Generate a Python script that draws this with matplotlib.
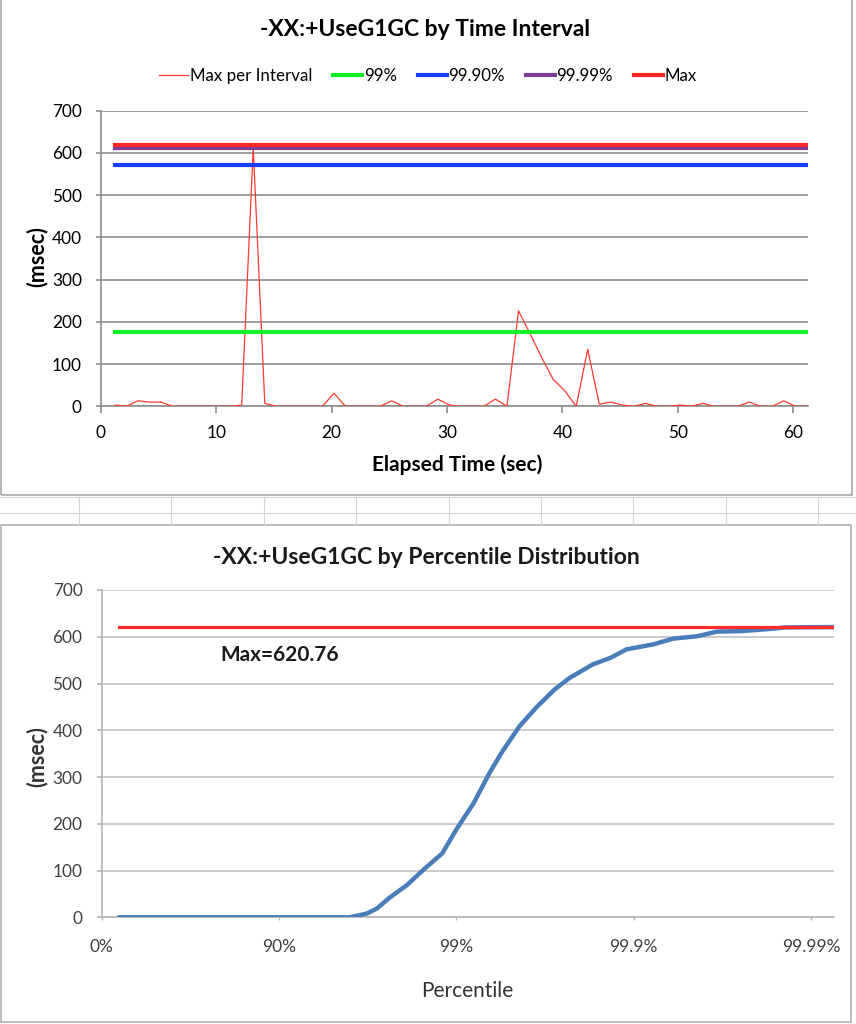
import numpy as np
import matplotlib
matplotlib.use("Agg")
import matplotlib.pyplot as plt
from matplotlib.patches import Rectangle
from matplotlib.lines import Line2D

plt.rcParams['font.family'] = ['Lato', 'DejaVu Sans']

# Top chart: max pause per 1 s interval
times = [1.2, 2.2, 3.2, 4.2, 5.2, 6.2, 7.2, 8.2, 9.2, 10.2,
         11.2, 12.2, 13.2, 14.2, 15.2, 16.2, 17.2, 18.2, 19.2, 20.2,
         21.2, 22.2, 23.2, 24.2, 25.2, 26.2, 27.2, 28.2, 29.2, 30.2,
         31.2, 32.2, 33.2, 34.2, 35.2, 36.2, 37.2, 38.2, 39.2, 40.2,
         41.2, 42.2, 43.2, 44.2, 45.2, 46.2, 47.2, 48.2, 49.2, 50.2,
         51.2, 52.2, 53.2, 54.2, 55.2, 56.2, 57.2, 58.2, 59.2, 60.2, 61.2]
max_per_interval = [3, 0, 13, 10, 10, 0, 0, 0, 0, 0,
                    0, 3, 612, 7, 0, 0, 0, 0, 0, 31,
                    0, 0, 0, 0, 13, 0, 0, 0, 17, 3,
                    0, 0, 0, 17, 0, 226, 172, 116, 64, 37,
                    0, 135, 5, 10, 3, 0, 7, 0, 0, 3,
                    0, 7, 0, 0, 0, 10, 0, 0, 13, 0, 0]
p99 = 175
p999 = 572
p9999 = 612
p_max = 618

# Bottom chart: latency by percentile
percentiles = [20, 50, 80, 90, 95, 96, 96.8, 97.2, 97.6, 98.1, 98.5, 98.8,
               99.0, 99.2, 99.35, 99.45, 99.56, 99.65, 99.72, 99.77, 99.83,
               99.865, 99.89, 99.923, 99.94, 99.956, 99.966, 99.975, 99.982,
               99.986, 99.9926]
latency = [0, 0, 0, 0, 0, 0, 8, 19, 41, 69, 105, 137,
           188, 244, 309, 355, 409, 451, 487, 512, 541,
           555, 573, 584, 596, 601, 611, 612, 616, 620, 620.76]
max_latency = 620.76
pct_ticks = [0, 90, 99, 99.9, 99.99]
pct_labels = ['0%', '90%', '99%', '99.9%', '99.99%']

W, H = 856, 1024
fig = plt.figure(figsize=(W / 100, H / 100), dpi=100)
fig.patch.set_facecolor('white')

def fx(px):
    return px / W

def fy(py):
    return 1 - py / H

# chart frames and spreadsheet cells between them
fig.patches.append(Rectangle((fx(1), fy(495)), fx(851), 495 / H + 0.01,
                             transform=fig.transFigure, fill=False,
                             edgecolor='#a8a8a8', lw=1.2))
fig.patches.append(Rectangle((fx(1), fy(1022)), fx(850), (1022 - 525) / H,
                             transform=fig.transFigure, fill=False,
                             edgecolor='#b0b0b0', lw=1.2))
for yy in [497, 513]:
    fig.lines.append(Line2D([0, 1], [fy(yy), fy(yy)], transform=fig.transFigure,
                            color='#d4d4d4', lw=0.8))
for xx in [79, 171, 264, 356, 449, 541, 633, 726, 818]:
    fig.lines.append(Line2D([fx(xx), fx(xx)], [fy(497), fy(525)],
                            transform=fig.transFigure, color='#d4d4d4', lw=0.8))

# ---- top chart ----
ax1 = fig.add_axes([fx(101), fy(406.3), fx(707), (406.3 - 110.7) / H])
ax1.plot(times, max_per_interval, color='#ff3b30', lw=0.9, label='Max per Interval', zorder=3)
ax1.plot([times[0], times[-1]], [p99, p99], color='#14f028', lw=3, label='99%', zorder=4)
ax1.plot([times[0], times[-1]], [p999, p999], color='#1a3cff', lw=3, label='99.90%', zorder=4)
ax1.plot([times[0], times[-1]], [p9999, p9999], color='#7d3c98', lw=3, label='99.99%', zorder=4)
ax1.plot([times[0], times[-1]], [p_max, p_max], color='#ff2626', lw=3, label='Max', zorder=5)
ax1.set_xlim(0, 61.3)
ax1.set_ylim(0, 700)
ax1.set_xticks([0, 10, 20, 30, 40, 50, 60])
ax1.set_yticks(range(0, 701, 100))
ax1.grid(axis='y', color='#8e8e8e', lw=1.2)
ax1.set_axisbelow(True)
for s in ['top', 'right']:
    ax1.spines[s].set_visible(False)
for s in ['left', 'bottom']:
    ax1.spines[s].set_color('#8e8e8e')
    ax1.spines[s].set_linewidth(1.2)
ax1.tick_params(axis='x', direction='out', length=4.8, width=1.2, color='#8e8e8e',
                pad=9, labelsize=12.4, labelcolor='black')
ax1.tick_params(axis='y', direction='out', length=3.8, width=1.2, color='#8e8e8e',
                pad=10, labelsize=12.4, labelcolor='black')

fig.text(fx(425), fy(30), '-XX:+UseG1GC by Time Interval', ha='center', va='center',
         fontsize=16.5, fontweight='bold')
fig.text(fx(37), fy(257), '(msec)', ha='center', va='center', rotation=90,
         fontsize=15.5, fontweight='bold')
fig.text(fx(457), fy(465), 'Elapsed Time (sec)', ha='center', va='center',
         fontsize=15, fontweight='bold')
fig.legend(*ax1.get_legend_handles_labels(), loc='center', ncol=5,
           bbox_to_anchor=(fx(428), fy(76)), frameon=False, fontsize=12.2,
           handlelength=1.7, handletextpad=0.1, columnspacing=1.25)

# ---- bottom chart ----
def fwd(p):
    p = np.clip(np.asarray(p, dtype=float), -1e9, 99.99999)
    return -np.log10(1 - p / 100)

def inv(d):
    return 100 * (1 - 10 ** (-np.asarray(d, dtype=float)))

ax2 = fig.add_axes([fx(101.7), fy(917.3), fx(732.6), (917.3 - 590) / H])
ax2.set_xscale('function', functions=(fwd, inv))
ax2.plot(percentiles, latency, color='#4a7ebb', lw=3.2, solid_joinstyle='round',
         solid_capstyle='round', zorder=3)
ax2.plot([percentiles[0], percentiles[-1]], [max_latency, max_latency],
         color='#ff2a2a', lw=2.3, zorder=4)
ax2.set_xlim(0, percentiles[-1])
ax2.set_ylim(0, 700)
ax2.set_xticks(pct_ticks)
ax2.set_xticklabels(pct_labels)
ax2.xaxis.set_minor_locator(matplotlib.ticker.NullLocator())
ax2.set_yticks(range(0, 701, 100))
ax2.grid(axis='y', color='#cbcbcb', lw=1.4)
ax2.set_axisbelow(True)
for s in ['top', 'right']:
    ax2.spines[s].set_visible(False)
for s in ['left', 'bottom']:
    ax2.spines[s].set_color('#b4b4b4')
    ax2.spines[s].set_linewidth(1.2)
ax2.tick_params(axis='x', direction='out', length=2.5, width=1, color='#b4b4b4',
                pad=13, labelsize=12.5, labelcolor='#404040')
ax2.tick_params(axis='y', direction='out', length=3.8, width=1.2, color='#b4b4b4',
                pad=10, labelsize=12.4, labelcolor='#404040')
ax2.text(78.7, 560, 'Max=620.76', ha='left', va='center', fontsize=15,
         fontweight='bold', color='#1a1a1a')

fig.text(fx(426), fy(557), '-XX:+UseG1GC by Percentile Distribution', ha='center',
         va='center', fontsize=16.5, fontweight='bold', color='#1a1a1a')
fig.text(fx(37), fy(757), '(msec)', ha='center', va='center', rotation=90,
         fontsize=15.5, fontweight='bold', color='#333333')
fig.text(fx(467), fy(991), 'Percentile', ha='center', va='center',
         fontsize=15, color='#333333')

fig.savefig('out.png', dpi=100, facecolor='white')
